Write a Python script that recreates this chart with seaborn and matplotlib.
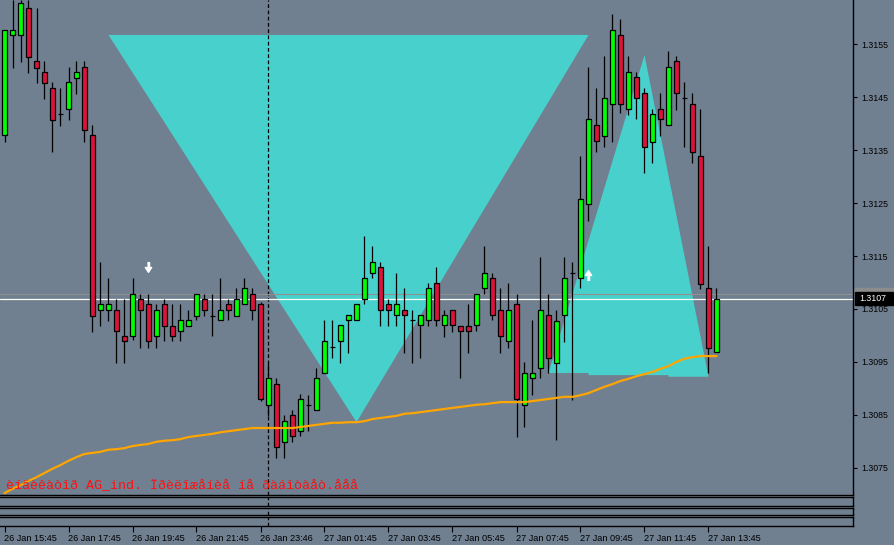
import numpy as np
import pandas as pd
import seaborn as sns
import matplotlib.pyplot as plt
import matplotlib.transforms as mtransforms
from matplotlib.patches import Rectangle

# 15 minute bars, 26 Jan 15:45 .. 27 Jan 14:00
opens = [1.31379, 1.31568, 1.31568, 1.31619, 1.31519, 1.31498, 1.31468, 1.31419, 1.31428, 1.31487,
         1.31507, 1.31379, 1.31048, 1.31048, 1.31048, 1.30999, 1.30999, 1.31069, 1.31059, 1.30999,
         1.31059, 1.31018, 1.31008, 1.31018, 1.31037, 1.31069, 1.31037, 1.31029, 1.31059, 1.31037,
         1.31059, 1.31078, 1.31059, 1.30869, 1.30908, 1.30799, 1.30850, 1.30819, 1.30869, 1.30859,
         1.30929, 1.30978, 1.30989, 1.31029, 1.31029, 1.31069, 1.31118, 1.31129, 1.31059, 1.31039,
         1.31048, 1.31029, 1.31020, 1.31029, 1.31099, 1.31020, 1.31048, 1.31018, 1.31018, 1.31020,
         1.31090, 1.31109, 1.31048, 1.30989, 1.31059, 1.30869, 1.30920, 1.30939, 1.31039, 1.30948,
         1.31039, 1.31118, 1.31109, 1.31248, 1.31398, 1.31377, 1.31437, 1.31568, 1.31428, 1.31488,
         1.31458, 1.31366, 1.31428, 1.31398, 1.31519, 1.31449, 1.31437, 1.31339, 1.31090, 1.30969]
highs = [1.31577, 1.31634, 1.31634, 1.31634, 1.31619, 1.31519, 1.31479, 1.31468, 1.31507, 1.31519,
         1.31519, 1.31398, 1.31139, 1.31109, 1.31069, 1.31069, 1.31109, 1.31078, 1.31078, 1.31059,
         1.31069, 1.31059, 1.31059, 1.31048, 1.31078, 1.31078, 1.31078, 1.31109, 1.31069, 1.31090,
         1.31109, 1.31090, 1.31063, 1.30948, 1.30920, 1.30850, 1.30859, 1.30889, 1.30887, 1.30939,
         1.31029, 1.31029, 1.31020, 1.31039, 1.31059, 1.31188, 1.31169, 1.31139, 1.31069, 1.31118,
         1.31090, 1.31048, 1.31039, 1.31099, 1.31129, 1.31048, 1.31048, 1.31018, 1.31059, 1.31078,
         1.31169, 1.31118, 1.31090, 1.31099, 1.31078, 1.30950, 1.31029, 1.31148, 1.31078, 1.31048,
         1.31148, 1.31139, 1.31339, 1.31507, 1.31468, 1.31528, 1.31608, 1.31598, 1.31528, 1.31498,
         1.31468, 1.31428, 1.31458, 1.31538, 1.31528, 1.31479, 1.31458, 1.31428, 1.31169, 1.31090]
lows = [1.31366, 1.31505, 1.31517, 1.31496, 1.31477, 1.31447, 1.31347, 1.31396, 1.31407, 1.31456,
        1.31366, 1.31007, 1.31018, 1.31027, 1.30948, 1.30948, 1.30991, 1.30976, 1.30976, 1.30976,
        1.30989, 1.30989, 1.30989, 1.31018, 1.31029, 1.31037, 1.30999, 1.31029, 1.31029, 1.31037,
        1.31059, 1.31029, 1.30876, 1.30848, 1.30768, 1.30768, 1.30799, 1.30810, 1.30819, 1.30859,
        1.30929, 1.30957, 1.30948, 1.30967, 1.31029, 1.31059, 1.31109, 1.31018, 1.31018, 1.31018,
        1.30967, 1.30948, 1.30957, 1.31018, 1.31018, 1.30997, 1.31007, 1.30920, 1.30967, 1.31008,
        1.31078, 1.31029, 1.30967, 1.30976, 1.30808, 1.30827, 1.30887, 1.30920, 1.30929, 1.30802,
        1.30988, 1.30878, 1.31090, 1.31216, 1.31347, 1.31356, 1.31366, 1.31420, 1.31417, 1.31409,
        1.31307, 1.31326, 1.31377, 1.31398, 1.31426, 1.31356, 1.31326, 1.31088, 1.30929, 1.30969]
closes = [1.31577, 1.31577, 1.31628, 1.31526, 1.31505, 1.31477, 1.31407, 1.31419, 1.31479, 1.31498,
          1.31388, 1.31037, 1.31059, 1.31059, 1.31008, 1.30989, 1.31078, 1.31048, 1.30989, 1.31048,
          1.31018, 1.30999, 1.31029, 1.31029, 1.31078, 1.31048, 1.31037, 1.31048, 1.31048, 1.31069,
          1.31090, 1.31048, 1.30880, 1.30920, 1.30789, 1.30838, 1.30810, 1.30880, 1.30869, 1.30920,
          1.30989, 1.30978, 1.31020, 1.31039, 1.31059, 1.31109, 1.31139, 1.31048, 1.31048, 1.31059,
          1.31039, 1.31029, 1.31039, 1.31090, 1.31029, 1.31039, 1.31020, 1.31008, 1.31008, 1.31078,
          1.31118, 1.31039, 1.30999, 1.31048, 1.30880, 1.30929, 1.30929, 1.31048, 1.30957, 1.31027,
          1.31109, 1.31118, 1.31258, 1.31409, 1.31368, 1.31449, 1.31577, 1.31437, 1.31498, 1.31449,
          1.31356, 1.31419, 1.31409, 1.31507, 1.31458, 1.31449, 1.31347, 1.31097, 1.30976, 1.31069]
ma = [1.30702, 1.30710, 1.30717, 1.30725, 1.30732, 1.30740, 1.30748, 1.30755, 1.30763, 1.30770,
      1.30776, 1.30778, 1.30780, 1.30784, 1.30785, 1.30787, 1.30791, 1.30793, 1.30795, 1.30799,
      1.30801, 1.30802, 1.30804, 1.30808, 1.30810, 1.30812, 1.30814, 1.30817, 1.30819, 1.30821,
      1.30823, 1.30825, 1.30825, 1.30825, 1.30825, 1.30825, 1.30825, 1.30827, 1.30829, 1.30831,
      1.30833, 1.30835, 1.30835, 1.30836, 1.30836, 1.30838, 1.30842, 1.30844, 1.30846, 1.30848,
      1.30852, 1.30853, 1.30855, 1.30857, 1.30859, 1.30861, 1.30863, 1.30865, 1.30867, 1.30869,
      1.30870, 1.30872, 1.30874, 1.30874, 1.30874, 1.30874, 1.30876, 1.30878, 1.30880, 1.30882,
      1.30884, 1.30884, 1.30887, 1.30891, 1.30897, 1.30903, 1.30908, 1.30914, 1.30918, 1.30923,
      1.30927, 1.30931, 1.30937, 1.30942, 1.30950, 1.30956, 1.30959, 1.30961, 1.30961, 1.30961]

tick_bars = [0, 8, 16, 24, 32, 40, 48, 56, 64, 72, 80, 88]
time_labels = ['26 Jan 15:45', '26 Jan 17:45', '26 Jan 19:45', '26 Jan 21:45', '26 Jan 23:46',
               '27 Jan 01:45', '27 Jan 03:45', '27 Jan 05:45', '27 Jan 07:45', '27 Jan 09:45',
               '27 Jan 11:45', '27 Jan 13:45']
price_ticks = [1.3075, 1.3085, 1.3095, 1.3105, 1.3115, 1.3125, 1.3135, 1.3145, 1.3155]
day_start_bar = 33

# indicator triangles (bar, price)
tri1_bars = [13, 73, 44]
tri1_prices = [1.31568, 1.31568, 1.30836]
tri2_bars = [68, 80, 88, 83, 83, 73, 73]
tri2_prices = [1.30929, 1.31530, 1.30922, 1.30922, 1.30925, 1.30925, 1.30929]
sell_arrow = (18, 1.31129)
buy_arrow = (73, 1.31114)
bid = 1.31069
ask = 1.31078
message = 'èíäèêàòîð AG_ind. Ïðèëîæåíèå íå ðàáîòàåò.ååå'

df = pd.DataFrame({'bar': np.arange(len(opens)), 'open': opens, 'high': highs,
                   'low': lows, 'close': closes, 'ma': ma})

sns.set_theme(style='dark')
plt.rcParams['font.family'] = ['Liberation Sans', 'DejaVu Sans']

BG = '#708090'
CYAN = '#48D1CC'
W, H = 894, 545
fig = plt.figure(figsize=(W / 100, H / 100), dpi=100, facecolor=BG)
ax = fig.add_axes([0, 50 / H, 853 / W, 495 / H])
panels = [fig.add_axes([0, (H - 506) / H, 853 / W, 9 / H]),
          fig.add_axes([0, (H - 515) / H, 853 / W, 7 / H]),
          fig.add_axes([0, (H - 526) / H, 853 / W, 9 / H])]

xlim = (-4.5 / 8, (853 - 4.5) / 8)
for a in [ax] + panels:
    a.set_facecolor(BG)
    a.set_xlim(*xlim)
    a.grid(False)
    for side in ['top', 'bottom', 'right']:
        a.spines[side].set_color('black')
        a.spines[side].set_linewidth(1.0)
    a.spines['left'].set_visible(False)
    a.axvline(day_start_bar, color='black', lw=0.9, ls=(0, (3, 2)), zorder=2)
ax.spines['top'].set_visible(False)

for p in panels:
    p.set_yticks([])
    p.set_xticks([])

ax.set_ylim(1.306984, 1.316341)

# objects
ax.fill(tri1_bars, tri1_prices, color=CYAN, lw=0, zorder=1)
ax.fill(tri2_bars, tri2_prices, color=CYAN, lw=0, zorder=1)
ax.axhline(ask, color='#909090', lw=0.8, zorder=2)
ax.axhline(bid, color='white', lw=0.9, zorder=2)

# candles
ax.vlines(df['bar'], df['low'], df['high'], color='black', lw=0.9, zorder=3)
up = df['close'] > df['open']
dn = df['close'] < df['open']
eq = df['close'] == df['open']
ax.bar(df['bar'][up], (df['close'] - df['open'])[up], bottom=df['open'][up], width=0.55,
       color='#00FF00', edgecolor='black', linewidth=0.9, zorder=4)
ax.bar(df['bar'][dn], (df['open'] - df['close'])[dn], bottom=df['close'][dn], width=0.55,
       color='#DC143C', edgecolor='black', linewidth=0.9, zorder=4)
ax.hlines(df['close'][eq], df['bar'][eq] - 0.35, df['bar'][eq] + 0.35, color='black', lw=0.9, zorder=4)

sns.lineplot(data=df, x='bar', y='ma', ax=ax, color='#FFA500', lw=1.6, zorder=5)
ax.set_xlabel('')
ax.set_ylabel('')
ax.set_xticks([])

down_marker = [(-0.22, 1), (0.22, 1), (0.22, 0), (0.65, 0), (0, -1), (-0.65, 0), (-0.22, 0)]
up_marker = [(x, -y) for x, y in down_marker]
ax.plot(*sell_arrow, marker=down_marker, color='white', ms=7, zorder=6)
ax.plot(*buy_arrow, marker=up_marker, color='white', ms=7, zorder=6)

# price scale
ax.yaxis.tick_right()
ax.set_yticks(price_ticks)
ax.set_yticklabels([f'{v:.4f}' for v in price_ticks])
ax.tick_params(axis='y', direction='out', length=3, width=0.8, colors='black',
               labelsize=6.3, pad=3, right=True, left=False)

px = (ax.get_ylim()[1] - ax.get_ylim()[0]) / 495
trans = mtransforms.blended_transform_factory(ax.transAxes, ax.transData)
x0 = 1 + 2 / 853
wbox = 38 / 853
ax.add_patch(Rectangle((x0, ask - 6.5 * px), wbox, 13 * px, transform=trans,
                       color='#8c8c8c', clip_on=False, zorder=6))
ax.add_patch(Rectangle((x0, bid - 6.5 * px), wbox, 13 * px, transform=trans,
                       color='black', clip_on=False, zorder=7))
ax.text(x0 + 4 / 853, bid, f'{bid:.4f}', transform=trans, color='white', fontsize=6.3,
        va='center', ha='left', zorder=8, clip_on=False)

# time scale
tp = panels[2]
tp.set_xticks(tick_bars)
tp.set_xticklabels(time_labels, ha='left')
tp.tick_params(axis='x', direction='out', length=4, width=0.8, colors='black',
               labelsize=6.6, pad=2, bottom=True)

fig.text(6 / W, (H - 489) / H, message, family='Liberation Mono', fontsize=9.6,
         color='#FF1010', va='baseline', ha='left')

fig.savefig('out.png', dpi=100, facecolor=BG)
